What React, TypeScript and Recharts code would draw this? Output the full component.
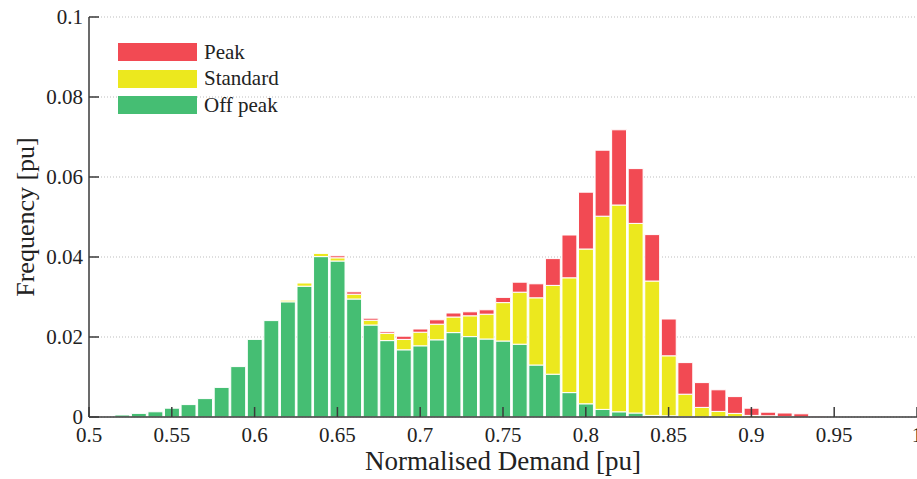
import {
  BarChart,
  Bar,
  XAxis,
  YAxis,
  CartesianGrid,
} from "recharts";

// bin centres, width 0.01
const bins = [
  0.52, 0.53, 0.54, 0.55, 0.56, 0.57, 0.58, 0.59, 0.6, 0.61, 0.62, 0.63, 0.64,
  0.65, 0.66, 0.67, 0.68, 0.69, 0.7, 0.71, 0.72, 0.73, 0.74, 0.75, 0.76, 0.77,
  0.78, 0.79, 0.8, 0.81, 0.82, 0.83, 0.84, 0.85, 0.86, 0.87, 0.88, 0.89, 0.9,
  0.91, 0.92, 0.93, 0.94,
];

const offPeak = [
  0.0005, 0.0009, 0.0013, 0.0022, 0.0031, 0.0046, 0.0074, 0.0126, 0.0194,
  0.0241, 0.0288, 0.0327, 0.0401, 0.039, 0.0295, 0.023, 0.0191, 0.0168, 0.0178,
  0.0193, 0.0211, 0.0201, 0.0195, 0.019, 0.0182, 0.013, 0.0107, 0.0061, 0.0033,
  0.0019, 0.0013, 0.001, 0.0004, 0.0003, 0.0001, 0, 0, 0, 0, 0, 0, 0, 0,
];

const standard = [
  0, 0, 0, 0, 0, 0, 0, 0, 0, 0, 0.0004, 0.0008, 0.0008, 0.0008, 0.0012, 0.0012,
  0.0018, 0.0026, 0.0034, 0.0039, 0.0039, 0.0052, 0.0062, 0.0096, 0.013, 0.0168,
  0.0222, 0.0287, 0.0387, 0.0483, 0.0517, 0.0474, 0.0336, 0.015, 0.0056, 0.0024,
  0.0014, 0.0009, 0.0004, 0.0003, 0.0001, 0, 0,
];

const peak = [
  0, 0, 0, 0, 0, 0, 0, 0, 0, 0, 0, 0, 0, 0.0005, 0.0006, 0.0005, 0.0004, 0.0008,
  0.0008, 0.0011, 0.001, 0.001, 0.0011, 0.0013, 0.0025, 0.0035, 0.0067, 0.0107,
  0.0142, 0.0165, 0.0188, 0.0137, 0.0116, 0.0092, 0.0079, 0.0062, 0.0054,
  0.0042, 0.0018, 0.0009, 0.0009, 0.0008, 0.0002,
];

const xTicks = [0.5, 0.55, 0.6, 0.65, 0.7, 0.75, 0.8, 0.85, 0.9, 0.95, 1];
const yTicks = [0, 0.02, 0.04, 0.06, 0.08, 0.1];

const RED = "#f24a53";
const YELLOW = "#ece81e";
const GREEN = "#45be73";
const AXIS = "#3a3a3a";
const FONT = "'Liberation Serif', 'Times New Roman', serif";

const legendItems = [
  { label: "Peak", color: RED },
  { label: "Standard", color: YELLOW },
  { label: "Off peak", color: GREEN },
];

function LegendBox() {
  return (
    <div
      style={{
        position: "absolute",
        left: 118,
        top: 39,
        fontFamily: FONT,
        fontSize: 21,
        color: "#222",
      }}
    >
      {legendItems.map((it) => (
        <div
          key={it.label}
          style={{ display: "flex", alignItems: "center", height: 26.5 }}
        >
          <div
            style={{
              width: 79,
              height: 18,
              background: it.color,
              marginRight: 7,
            }}
          />
          <span>{it.label}</span>
        </div>
      ))}
    </div>
  );
}

export default function App() {
  const data = bins.map((x, i) => ({
    x,
    offPeak: offPeak[i],
    standard: standard[i],
    peak: peak[i],
  }));

  return (
    <div style={{ position: "absolute", left: 0, top: 0, width: 917, height: 479, background: "#fff" }}>
      <BarChart
        width={917}
        height={479}
        data={data}
        margin={{ top: 17, right: 0, bottom: 0, left: 0 }}
        barGap={0}
      >
        <CartesianGrid
          vertical={false}
          stroke="#bdbdbd"
          strokeDasharray="1 2"
        />
        <XAxis
          dataKey="x"
          type="number"
          domain={[0.5, 1]}
          ticks={xTicks}
          interval={0}
          height={62}
          tickSize={-10}
          tickMargin={20}
          tickFormatter={(v) => String(v)}
          axisLine={{ stroke: AXIS, strokeWidth: 1.5 }}
          tickLine={{ stroke: AXIS, strokeWidth: 1.5 }}
          tick={{ fill: "#222", fontSize: 21, fontFamily: FONT }}
          label={{
            value: "Normalised Demand [pu]",
            position: "insideBottom",
            offset: 9,
            style: { fill: "#222", fontSize: 27, fontFamily: FONT },
          }}
        />
        <YAxis
          type="number"
          domain={[0, 0.1]}
          ticks={yTicks}
          interval={0}
          width={89}
          tickSize={-10}
          tickMargin={16}
          tickFormatter={(v) => String(v)}
          axisLine={{ stroke: AXIS, strokeWidth: 1.5 }}
          tickLine={{ stroke: AXIS, strokeWidth: 1.5 }}
          tick={{ fill: "#222", fontSize: 21, fontFamily: FONT }}
          label={{
            value: "Frequency [pu]",
            angle: -90,
            position: "insideLeft",
            offset: 25,
            style: {
              fill: "#222",
              fontSize: 26,
              fontFamily: FONT,
              textAnchor: "middle",
            },
          }}
        />
        <Bar
          dataKey="offPeak"
          stackId="a"
          fill={GREEN}
          stroke="#fff"
          strokeWidth={1}
          barSize={16.56}
          isAnimationActive={false}
        />
        <Bar
          dataKey="standard"
          stackId="a"
          fill={YELLOW}
          stroke="#fff"
          strokeWidth={1}
          barSize={16.56}
          isAnimationActive={false}
        />
        <Bar
          dataKey="peak"
          stackId="a"
          fill={RED}
          stroke="#fff"
          strokeWidth={1}
          barSize={16.56}
          isAnimationActive={false}
        />
      </BarChart>
      <LegendBox />
    </div>
  );
}
